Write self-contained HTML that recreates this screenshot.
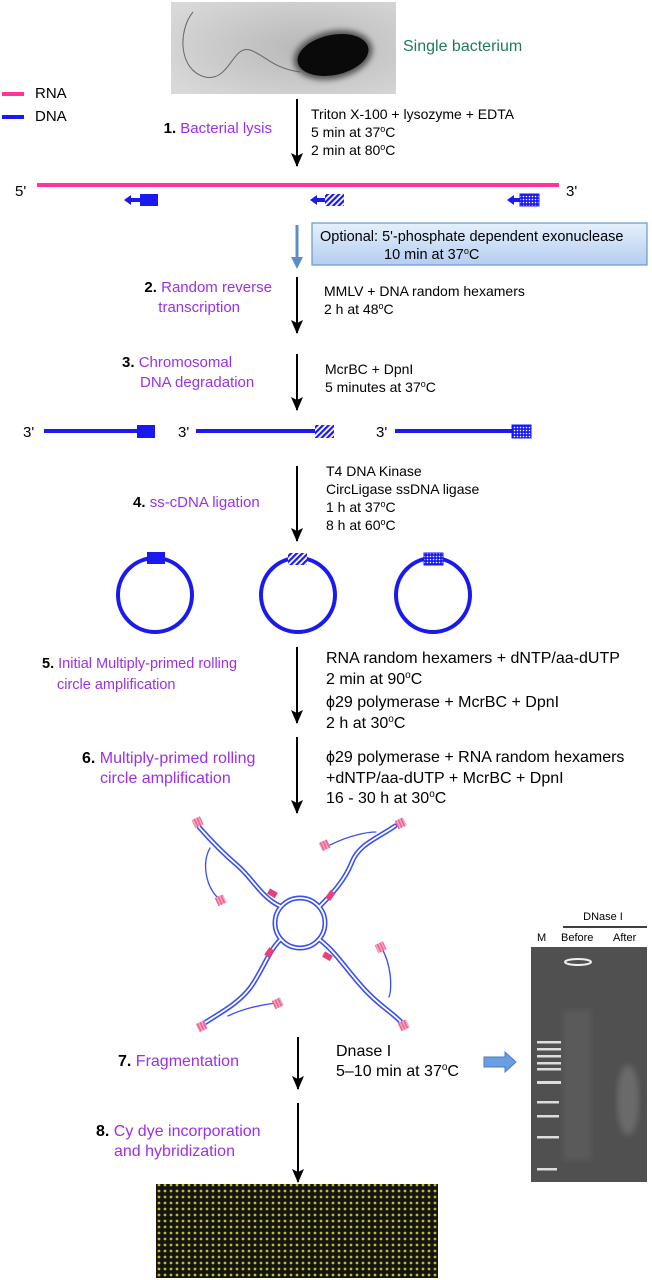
<!DOCTYPE html>
<html><head><meta charset="utf-8"><style>
body{margin:0;background:#fff}
svg{display:block}
text{font-family:"Liberation Sans",sans-serif}
.k{fill:#000;font-size:14px}
.p{fill:#9b30e8;font-size:15px}
.b{font-weight:bold;fill:#000}
</style></head><body>
<svg width="652" height="1280" viewBox="0 0 652 1280" xmlns="http://www.w3.org/2000/svg">
<defs>
<marker id="ah" markerWidth="14" markerHeight="12" refX="13" refY="6" orient="auto" markerUnits="userSpaceOnUse"><path d="M0,0 L14,6 L0,12 L3,6 Z" fill="#000"/></marker>
<pattern id="hatch" width="4" height="4" patternUnits="userSpaceOnUse" patternTransform="rotate(45)"><rect width="4" height="4" fill="#fff"/><rect width="2.2" height="4" fill="#1a1aee"/></pattern>
<pattern id="dots" width="3" height="3" patternUnits="userSpaceOnUse"><rect width="3" height="3" fill="#1a1aee"/><circle cx="1.5" cy="1.5" r="0.8" fill="#fff"/></pattern>
<pattern id="pk" width="3" height="3" patternUnits="userSpaceOnUse"><rect width="3" height="3" fill="#f7a8c0"/><rect width="1.5" height="3" fill="#ee6090"/></pattern>
<pattern id="arr" width="6" height="6" patternUnits="userSpaceOnUse"><rect width="6" height="6" fill="#141410"/><circle cx="3" cy="3" r="1.4" fill="#c0b838"/></pattern>
<linearGradient id="bx" x1="0" y1="0" x2="0" y2="1"><stop offset="0" stop-color="#e6f0fc"/><stop offset="1" stop-color="#b4cdf0"/></linearGradient>
<radialGradient id="bg" cx="0.6" cy="0.5" r="0.7"><stop offset="0" stop-color="#b8b8b8"/><stop offset="1" stop-color="#d8d8d8"/></radialGradient>
<filter id="bl"><feGaussianBlur stdDeviation="3"/></filter>
</defs>

<!-- bacterium -->
<rect x="171" y="2" width="225" height="92" fill="url(#bg)"/>
<path d="M193,12 C178,30 178,70 205,77 C230,82 232,45 250,50 C265,55 272,68 300,72" stroke="#666" stroke-width="1" fill="none"/>
<ellipse cx="333" cy="55" rx="40" ry="24" fill="#555" filter="url(#bl)" transform="rotate(-12 333 55)"/>
<ellipse cx="333" cy="55" rx="36" ry="20" fill="#0a0a0a" transform="rotate(-12 333 55)"/>
<text x="403" y="51" style="font-size:16px;fill:#1f7a5c">Single bacterium</text>

<!-- legend -->
<rect x="2" y="92" width="22" height="4" fill="#ff3399"/>
<text x="35" y="98" style="font-size:15px">RNA</text>
<rect x="2" y="115" width="22" height="4" fill="#1a1aee"/>
<text x="35" y="121" style="font-size:15px">DNA</text>

<!-- step 1 -->
<line x1="297" y1="99" x2="297" y2="166" stroke="#000" stroke-width="2" marker-end="url(#ah)"/>
<text x="311" y="119" class="k">Triton X-100 + lysozyme + EDTA</text>
<text x="311" y="137" class="k">5 min at 37<tspan font-size="9" dy="-5">o</tspan><tspan dy="5">C</tspan></text>
<text x="311" y="155" class="k">2 min at 80<tspan font-size="9" dy="-5">o</tspan><tspan dy="5">C</tspan></text>
<text x="272" y="133" text-anchor="end" class="p"><tspan class="b">1. </tspan>Bacterial lysis</text>

<!-- RNA line -->
<text x="15" y="196" style="font-size:15px">5'</text>
<rect x="37" y="183" width="522" height="4" fill="#ff3399"/>
<text x="566" y="196" style="font-size:15px">3'</text>
<rect x="140" y="194" width="18" height="12" fill="#1a1aee"/>
<path d="M124,200 L131,195 L131,198 L140,198 L140,202 L131,202 L131,205Z" fill="#1a1aee"/>
<rect x="325" y="194" width="19" height="12" fill="url(#hatch)"/>
<path d="M310,200 L317,195 L317,198 L325,198 L325,202 L317,202 L317,205Z" fill="#1a1aee"/>
<rect x="520" y="194" width="19" height="12" fill="url(#dots)" stroke="#1a1aee" stroke-width="1"/>
<path d="M507,200 L514,195 L514,198 L520,198 L520,202 L514,202 L514,205Z" fill="#1a1aee"/>

<!-- optional -->
<line x1="297" y1="225" x2="297" y2="258" stroke="#5b8ec8" stroke-width="3"/>
<path d="M291,257 L303,257 L297,269Z" fill="#5b8ec8"/>
<rect x="312" y="223" width="335" height="42" fill="url(#bx)" stroke="#6d95c8" stroke-width="1.2"/>
<text x="320" y="241" style="font-size:14.5px">Optional: 5'-phosphate dependent exonuclease</text>
<text x="384" y="259" style="font-size:14.5px">10 min at 37<tspan font-size="9" dy="-5">o</tspan><tspan dy="5">C</tspan></text>

<!-- step 2 -->
<line x1="297" y1="277" x2="297" y2="333" stroke="#000" stroke-width="2" marker-end="url(#ah)"/>
<text x="272" y="292" text-anchor="end" class="p"><tspan class="b">2. </tspan>Random reverse</text>
<text x="240" y="312" text-anchor="end" class="p">transcription</text>
<text x="324" y="296" class="k">MMLV + DNA random hexamers</text>
<text x="324" y="314" class="k">2 h at 48<tspan font-size="9" dy="-5">o</tspan><tspan dy="5">C</tspan></text>

<!-- step 3 -->
<line x1="297" y1="354" x2="297" y2="410" stroke="#000" stroke-width="2" marker-end="url(#ah)"/>
<text x="122" y="367" class="p"><tspan class="b">3. </tspan>Chromosomal</text>
<text x="140" y="387" class="p">DNA degradation</text>
<text x="325" y="374" class="k">McrBC + DpnI</text>
<text x="325" y="392" class="k">5 minutes at 37<tspan font-size="9" dy="-5">o</tspan><tspan dy="5">C</tspan></text>

<!-- linear DNA -->
<text x="23" y="437" style="font-size:15px">3'</text>
<rect x="44" y="429" width="94" height="4" fill="#1a1aee"/>
<rect x="137" y="425" width="18" height="13" fill="#1a1aee"/>
<text x="178" y="437" style="font-size:15px">3'</text>
<rect x="196" y="429" width="119" height="4" fill="#1a1aee"/>
<rect x="315" y="425" width="19" height="13" fill="url(#hatch)"/>
<text x="376" y="437" style="font-size:15px">3'</text>
<rect x="395" y="429" width="117" height="4" fill="#1a1aee"/>
<rect x="512" y="425" width="19" height="13" fill="url(#dots)" stroke="#1a1aee" stroke-width="1"/>

<!-- step 4 -->
<line x1="297" y1="466" x2="297" y2="541" stroke="#000" stroke-width="2" marker-end="url(#ah)"/>
<text x="133" y="507" class="p"><tspan class="b">4. </tspan>ss-cDNA ligation</text>
<text x="326" y="476" class="k">T4 DNA Kinase</text>
<text x="326" y="494" class="k">CircLigase ssDNA ligase</text>
<text x="326" y="512" class="k">1 h at 37<tspan font-size="9" dy="-5">o</tspan><tspan dy="5">C</tspan></text>
<text x="326" y="530" class="k">8 h at 60<tspan font-size="9" dy="-5">o</tspan><tspan dy="5">C</tspan></text>

<!-- circles -->
<ellipse cx="155" cy="595" rx="37" ry="37" fill="none" stroke="#1a1aee" stroke-width="4"/>
<rect x="147" y="552" width="18" height="12" fill="#1a1aee"/>
<ellipse cx="298" cy="595" rx="37" ry="37" fill="none" stroke="#1a1aee" stroke-width="4"/>
<rect x="288" y="553" width="19" height="12" fill="url(#hatch)"/>
<ellipse cx="433" cy="595" rx="37" ry="37" fill="none" stroke="#1a1aee" stroke-width="4"/>
<rect x="424" y="553" width="19" height="12" fill="url(#dots)" stroke="#1a1aee" stroke-width="1"/>

<!-- step 5 -->
<line x1="297" y1="647" x2="297" y2="723" stroke="#000" stroke-width="2" marker-end="url(#ah)"/>
<text x="42" y="668" class="p" style="font-size:14.5px"><tspan class="b">5. </tspan>Initial Multiply-primed rolling</text>
<text x="57" y="689" class="p" style="font-size:14.5px">circle amplification</text>
<text x="326" y="663" class="k" style="font-size:16px">RNA random hexamers + dNTP/aa-dUTP</text>
<text x="326" y="684" class="k" style="font-size:16px">2 min at 90<tspan font-size="10" dy="-6">o</tspan><tspan dy="6">C</tspan></text>
<text x="326" y="707" class="k" style="font-size:16px">ϕ29 polymerase + McrBC + DpnI</text>
<text x="326" y="728" class="k" style="font-size:16px">2 h at 30<tspan font-size="10" dy="-6">o</tspan><tspan dy="6">C</tspan></text>

<!-- step 6 -->
<line x1="297" y1="737" x2="297" y2="813" stroke="#000" stroke-width="2" marker-end="url(#ah)"/>
<text x="82" y="763" class="p" style="font-size:16px"><tspan class="b">6. </tspan>Multiply-primed rolling</text>
<text x="100" y="783" class="p" style="font-size:16px">circle amplification</text>
<text x="326" y="762" class="k" style="font-size:16px">ϕ29 polymerase + RNA random hexamers</text>
<text x="326" y="783" class="k" style="font-size:16px">+dNTP/aa-dUTP + McrBC + DpnI</text>
<text x="326" y="803" class="k" style="font-size:16px">16 - 30 h at 30<tspan font-size="10" dy="-6">o</tspan><tspan dy="6">C</tspan></text>

<!-- amplification -->
<g fill="none" stroke-linecap="round">
<g stroke="#3a4ff0" stroke-width="5">
<circle cx="300" cy="923" r="25"/>
<path d="M280,906 C262,898 252,878 238,866 S212,842 199,827"/>
<path d="M320,906 C332,894 345,880 352,862 S378,838 395,826"/>
<path d="M280,940 C268,952 262,972 250,988 S218,1014 203,1024"/>
<path d="M320,940 C336,952 348,972 365,990 S392,1012 402,1023"/>
</g>
<g stroke="#fff" stroke-width="1.8">
<circle cx="300" cy="923" r="25"/>
<path d="M280,906 C262,898 252,878 238,866 S212,842 199,827"/>
<path d="M320,906 C332,894 345,880 352,862 S378,838 395,826"/>
<path d="M280,940 C268,952 262,972 250,988 S218,1014 203,1024"/>
<path d="M320,940 C336,952 348,972 365,990 S392,1012 402,1023"/>
</g>
<g stroke="#3a4ff0" stroke-width="1.3">
<path d="M210,848 C202,862 205,885 218,898"/>
<path d="M330,845 C350,835 368,832 376,832"/>
<path d="M381,947 C392,965 392,990 389,997"/>
<path d="M276,1003 C258,1005 240,1010 228,1016"/>
</g>
</g>
<g>
<rect x="193" y="818" width="9" height="9" fill="url(#pk)" transform="rotate(-25 197 822)"/>
<rect x="396" y="819" width="9" height="9" fill="url(#pk)" transform="rotate(-25 400 823)"/>
<rect x="216" y="896" width="9" height="9" fill="url(#pk)" transform="rotate(-25 220 900)"/>
<rect x="320" y="841" width="9" height="9" fill="url(#pk)" transform="rotate(-25 324 845)"/>
<rect x="376" y="943" width="9" height="9" fill="url(#pk)" transform="rotate(-25 380 947)"/>
<rect x="399" y="1021" width="9" height="9" fill="url(#pk)" transform="rotate(-25 403 1025)"/>
<rect x="197" y="1022" width="9" height="9" fill="url(#pk)" transform="rotate(-25 201 1026)"/>
<rect x="273" y="999" width="9" height="9" fill="url(#pk)" transform="rotate(-25 277 1003)"/>
<rect x="268" y="890" width="9" height="6" fill="#e8407a" transform="rotate(30 272 893)"/>
<rect x="326" y="893" width="9" height="6" fill="#e8407a" transform="rotate(-55 330 896)"/>
<rect x="265" y="950" width="9" height="6" fill="#e8407a" transform="rotate(-55 269 953)"/>
<rect x="323" y="953" width="9" height="6" fill="#e8407a" transform="rotate(30 327 956)"/>
</g>

<!-- step 7 -->
<line x1="298" y1="1037" x2="298" y2="1089" stroke="#000" stroke-width="2" marker-end="url(#ah)"/>
<text x="118" y="1066" class="p" style="font-size:16px"><tspan class="b">7. </tspan>Fragmentation</text>
<text x="336" y="1056" class="k" style="font-size:16px">Dnase I</text>
<text x="336" y="1076" class="k" style="font-size:16px">5–10 min at 37<tspan font-size="10" dy="-6">o</tspan><tspan dy="6">C</tspan></text>
<path d="M484,1057 L505,1057 L505,1052 L516,1062 L505,1072 L505,1067 L484,1067Z" fill="#6a9ee0" stroke="#4a7ec0" stroke-width="1"/>

<!-- gel -->
<text x="603" y="920" text-anchor="middle" style="font-size:11px">DNase I</text>
<line x1="563" y1="927" x2="647" y2="927" stroke="#000" stroke-width="1.5"/>
<text x="537" y="941" style="font-size:11px">M</text>
<text x="561" y="941" style="font-size:11px">Before</text>
<text x="613" y="941" style="font-size:11px">After</text>
<rect x="531" y="947" width="116" height="235" fill="#505050"/>
<rect x="563" y="1010" width="28" height="150" fill="#5a5a5a" filter="url(#bl)"/>
<ellipse cx="578" cy="962" rx="13" ry="3" fill="none" stroke="#eee" stroke-width="2"/>
<ellipse cx="628" cy="1100" rx="11" ry="35" fill="#6a6a6a" filter="url(#bl)"/>
<g fill="#ddd">
<rect x="537" y="1041" width="24" height="2.5"/><rect x="537" y="1048" width="24" height="2.5"/>
<rect x="537" y="1055" width="24" height="2.5"/><rect x="537" y="1062" width="24" height="2.5"/>
<rect x="537" y="1068" width="24" height="2.5"/><rect x="537" y="1081" width="24" height="3"/>
<rect x="537" y="1101" width="22" height="2.5"/><rect x="537" y="1115" width="22" height="2.5"/>
<rect x="537" y="1136" width="22" height="2.5"/><rect x="537" y="1168" width="20" height="2.5"/>
</g>

<!-- step 8 -->
<line x1="298" y1="1103" x2="298" y2="1182" stroke="#000" stroke-width="2" marker-end="url(#ah)"/>
<text x="96" y="1136" class="p" style="font-size:16px"><tspan class="b">8. </tspan>Cy dye incorporation</text>
<text x="114" y="1156" class="p" style="font-size:16px">and hybridization</text>

<!-- microarray -->
<rect x="156" y="1184" width="282" height="94" fill="url(#arr)"/>
</svg>
</body></html>
